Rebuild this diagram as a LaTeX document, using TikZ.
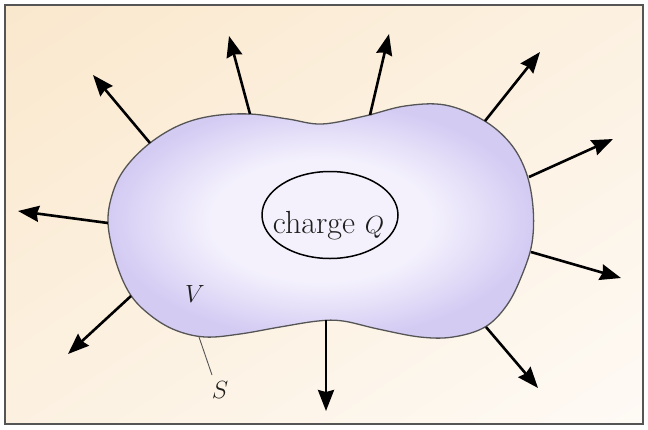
\documentclass[tikz,border=0pt]{standalone}
\usetikzlibrary{shapes.geometric,arrows.meta,shadings}
\definecolor{bgA}{HTML}{FAE8CD}
\definecolor{bgM}{HTML}{FCF1E1}
\definecolor{bgB}{HTML}{FEFAF5}
\definecolor{bin}{HTML}{F4F1FD}
\definecolor{bout}{HTML}{D4CBF3}
\definecolor{ink}{HTML}{1E1E1E}
\definecolor{rim}{HTML}{555555}
\pgfdeclareradialshading{blobshade}{\pgfpoint{0bp}{0bp}}{color(0bp)=(bin); color(13bp)=(bin); color(25bp)=(bout); color(50bp)=(bout)}
\tikzset{
  vec/.style={line width=2.6pt, draw=black, -{Stealth[length=21pt,width=16pt,inset=2pt]}},
  lbl/.style={font=\fontsize{30}{34}\selectfont, text=ink, inner sep=0pt},
  blobline/.style={draw=rim, line width=1.3pt}
}
\begin{document}
\begin{tikzpicture}[x=1pt,y=-1pt]
\useasboundingbox (0,0) rectangle (648,429);
\fill[white] (0,0) rectangle (648,429);
\shade[upper left=bgA, upper right=bgM, lower left=bgM, lower right=bgB] (5,5) rectangle (643,424);
\draw[rim, line width=1.8pt] (5,5) rectangle (643,424);
% surface S
\def\blobpath{plot[smooth cycle, tension=0.6] coordinates {
 (108,223) (113,192) (126,167) (150,143) (180,125) (212,116) (250,114) (288,119)
 (322,124) (365,116) (405,106) (445,105) (483,120) (510,143) (526,172) (533,207)
 (532,243) (522,275) (507,305) (485,327) (453,337) (420,337) (378,329) (343,321)
 (318,321) (280,327) (240,334) (205,337) (175,330) (150,315) (130,294) (116,262)}}
\shade[shading=blobshade] \blobpath;
\draw[blobline] \blobpath;
% arrow start points on S and tips
\coordinate (s1) at (150,143); \coordinate (t1) at (93,75);
\coordinate (s2) at (250,114); \coordinate (t2) at (229,36);
\coordinate (s3) at (370,115); \coordinate (t3) at (389,34);
\coordinate (s4) at (485,121); \coordinate (t4) at (540,52);
\coordinate (s5) at (529,177); \coordinate (t5) at (613,139);
\coordinate (s6) at (531,252); \coordinate (t6) at (621,278);
\coordinate (s7) at (486,327); \coordinate (t7) at (538,388);
\coordinate (s8) at (326,320); \coordinate (t8) at (326,411);
\coordinate (s9) at (131,296); \coordinate (t9) at (68,354);
\coordinate (s10) at (108,223); \coordinate (t10) at (18,211);
\foreach \i in {1,...,10} {\draw[vec] (s\i) -- (t\i);}
% charge
\node[ellipse, draw=black, line width=1.5pt, minimum width=136pt, minimum height=87pt, inner sep=0pt] (q) at (330,215) {};
\node[lbl, anchor=base, font=\fontsize{32}{36}\selectfont] (qt) at (328.5,233) {charge $Q$};
% labels
\node[lbl, anchor=base] (v) at (195,302) {$V$};
\node[lbl, anchor=base] (s) at (220,398) {$S$};
\coordinate (sl) at (199,337);
\coordinate (sle) at (212,375);
\draw[rim, line width=0.9pt] (sl) -- (sle);
\end{tikzpicture}
\end{document}
